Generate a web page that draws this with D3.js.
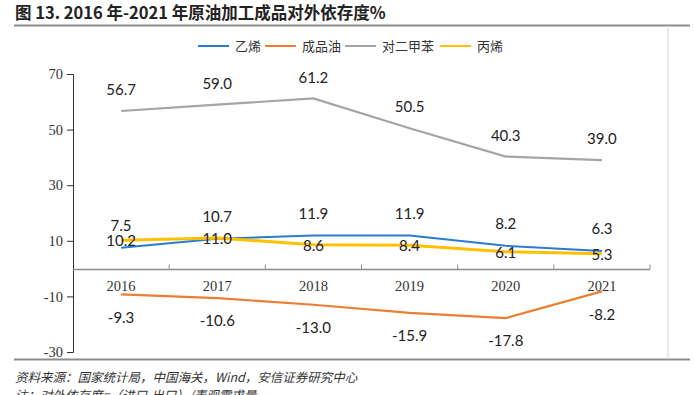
<!DOCTYPE html>
<html>
<head>
<meta charset="utf-8">
<script src="https://cdn.jsdelivr.net/npm/d3@7"></script>
<style>
  body { margin: 0; background: #fff; }
</style>
</head>
<body>
<svg id="chart" width="694" height="395"></svg>
<script>
// data
var years = ["2016", "2017", "2018", "2019", "2020", "2021"];
var ethylene = [7.5, 10.7, 11.9, 11.9, 8.2, 6.3];
var refinedOil = [-9.3, -10.6, -13.0, -15.9, -17.8, -8.2];
var paraxylene = [56.7, 59.0, 61.2, 50.5, 40.3, 39.0];
var propylene = [10.2, 11.0, 8.6, 8.4, 6.1, 5.3];
var yTicks = [70, 50, 30, 10, -10, -30];

var series = [
  { name: "乙烯", values: ethylene, color: "#2a7ccf", width: 2, dy: -22 },
  { name: "成品油", values: refinedOil, color: "#ed7d31", width: 2.2, dy: 23 },
  { name: "对二甲苯", values: paraxylene, color: "#a5a5a5", width: 2.2, dy: -21 },
  { name: "丙烯", values: propylene, color: "#ffc000", width: 3, dy: 1 }
];

var cjk = "'Noto Sans CJK SC', sans-serif";
var serif = "'Liberation Serif', serif";
var labelFont = "Lato, 'Open Sans', sans-serif";

var svg = d3.select("#chart");

// title + frame lines
svg.append("text").attr("x", 15).attr("y", 19)
  .style("font-family", cjk).style("font-size", "16.5px").style("font-weight", "bold").attr("fill", "#222")
  .text("图 13. 2016 年-2021 年原油加工成品对外依存度%");
svg.append("line").attr("x1", 14).attr("x2", 690).attr("y1", 25.5).attr("y2", 25.5)
  .attr("stroke", "#8c8c8c").attr("stroke-width", 2);
svg.append("line").attr("x1", 14).attr("x2", 690).attr("y1", 359.5).attr("y2", 359.5)
  .attr("stroke", "#8c8c8c").attr("stroke-width", 2);
svg.append("line").attr("x1", 668).attr("x2", 668).attr("y1", 26).attr("y2", 359)
  .attr("stroke", "#e2e2e2").attr("stroke-width", 1.5);

var x = d3.scaleBand().domain(years).range([73, 650]);
var y = d3.scaleLinear().domain([-30, 70]).range([352, 74]);

// y axis
var yAxis = svg.append("g").attr("transform", "translate(73,0)")
  .call(d3.axisLeft(y).tickValues(yTicks).tickFormat(String).tickSize(6).tickPadding(4));
yAxis.select(".domain").attr("stroke", "#333");
yAxis.selectAll(".tick line").attr("stroke", "#333");
yAxis.selectAll("text").style("font-family", serif)
  .style("font-size", "14.5px").attr("fill", "#333");

// x axis at zero, ticks at band edges pointing up
var x0 = Math.round(y(0)) + 0.5;
svg.append("line").attr("x1", 73).attr("x2", 650).attr("y1", x0).attr("y2", x0)
  .attr("stroke", "#8c8c8c").attr("stroke-width", 1.3);
svg.selectAll(".xtick").data(years).enter().append("line")
  .attr("x1", function (d) { return x(d) + x.bandwidth(); })
  .attr("x2", function (d) { return x(d) + x.bandwidth(); })
  .attr("y1", x0 - 5).attr("y2", x0)
  .attr("stroke", "#8c8c8c");
svg.selectAll(".xlabel").data(years).enter().append("text")
  .attr("x", function (d) { return x(d) + x.bandwidth() / 2; })
  .attr("y", 291).attr("text-anchor", "middle")
  .style("font-family", serif).style("font-size", "14.5px").attr("fill", "#333")
  .text(function (d) { return d; });

// lines
var line = d3.line()
  .x(function (d, i) { return x(years[i]) + x.bandwidth() / 2; })
  .y(function (d) { return y(d); });

series.forEach(function (s) {
  svg.append("path").datum(s.values)
    .attr("d", line).attr("fill", "none")
    .attr("stroke", s.color).attr("stroke-width", s.width);
});

// data labels
series.forEach(function (s) {
  svg.selectAll(null).data(s.values).enter().append("text")
    .attr("x", function (d, i) { return x(years[i]) + x.bandwidth() / 2; })
    .attr("y", function (d) { return y(d) + s.dy; })
    .attr("dy", "0.35em").attr("text-anchor", "middle")
    .style("font-family", labelFont).style("font-size", "15px").attr("fill", "#222")
    .text(function (d) { return d.toFixed(1); });
});

// legend
var legendX = [198, 265, 345, 440];
var lg = svg.append("g");
series.forEach(function (s, i) {
  lg.append("line").attr("x1", legendX[i]).attr("x2", legendX[i] + 31)
    .attr("y1", 46).attr("y2", 46).attr("stroke", s.color).attr("stroke-width", 2);
  lg.append("text").attr("x", legendX[i] + 37).attr("y", 50.5)
    .style("font-family", cjk).style("font-size", "13px").attr("fill", "#333").text(s.name);
});

// source notes
svg.append("text").attr("x", 15).attr("y", 382)
  .style("font-family", cjk).style("font-size", "12.5px").style("font-style", "italic").attr("fill", "#333")
  .text("资料来源：国家统计局，中国海关，Wind，安信证券研究中心");
svg.append("text").attr("x", 15).attr("y", 400)
  .style("font-family", cjk).style("font-size", "12.5px").style("font-style", "italic").attr("fill", "#333")
  .text("注：对外依存度=（进口-出口）/表观需求量");
</script>
</body>
</html>
